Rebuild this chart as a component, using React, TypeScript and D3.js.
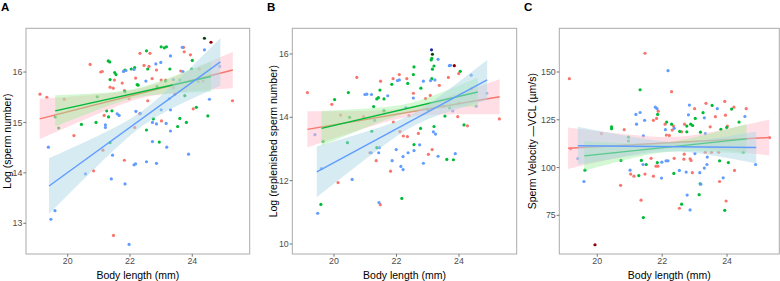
import React from "react";
import * as d3 from "d3";

// ---------- DATA ----------
const groupColors = ["#F8766D", "#00BA38", "#619CFF"];

const aRed = [[19.11,15.56],[19.33,15.5],[19.89,15.46],[20.2,14.74],[20.72,16.15],[20.83,14.04],[21.06,16.0],[21.11,16.01],[21.13,14.45],[21.17,15.14],[21.36,15.70],[21.46,15.68],[21.47,12.76],[21.5,15.84],[21.75,15.78],[21.8,16.02],[21.82,14.25],[21.82,15.63],[21.97,15.47],[22.15,14.9],[22.18,15.88],[22.31,15.17],[22.32,16.37],[22.45,16.13],[22.57,15.43],[22.61,16.11],[22.64,16.37],[22.71,15.87],[22.85,16.04],[23.0,15.84],[23.01,15.03],[23.15,15.84],[23.39,15.69],[23.44,15.56],[23.63,16.02],[23.72,16.49],[23.74,16.40],[23.94,16.34],[23.95,15.82],[24.03,15.27],[24.19,15.81],[24.22,16.06],[24.35,15.82],[25.29,15.43]];
const aGreen = [[19.6,15.11],[19.71,14.89],[20.44,14.96],[20.91,15.0],[20.95,15.51],[21.25,15.23],[21.30,16.22],[21.31,15.11],[21.35,16.20],[21.36,15.85],[21.36,14.6],[21.42,15.23],[21.51,15.99],[21.55,15.95],[21.84,16.04],[21.84,15.61],[22.04,16.06],[22.15,16.09],[22.23,15.75],[22.26,15.74],[22.53,16.42],[22.53,14.85],[22.57,16.06],[22.75,15.07],[22.87,15.71],[22.94,14.61],[23.0,16.5],[23.1,16.48],[23.14,15.82],[23.17,16.5],[23.28,16.06],[23.53,14.92],[23.6,15.08],[23.6,15.84],[23.76,15.53],[23.81,15.0],[23.98,16.06],[24.0,16.23],[24.13,15.3],[24.5,15.13]];
const aBlue = [[19.38,14.51],[19.46,13.08],[19.59,13.25],[20.57,13.98],[21.21,14.95],[21.21,14.90],[21.4,13.88],[21.44,14.35],[21.59,15.17],[21.65,15.14],[21.79,16.01],[21.84,13.78],[21.87,16.03],[21.97,12.58],[22.13,14.16],[22.13,16.05],[22.18,14.18],[22.19,15.22],[22.33,15.18],[22.51,15.82],[22.53,14.22],[22.72,14.62],[22.72,15.0],[22.83,16.16],[22.85,14.19],[22.85,14.97],[22.99,16.19],[23.0,15.25],[23.16,14.98],[23.18,14.51],[23.26,15.47],[23.3,15.25],[23.3,14.83],[23.3,16.32],[23.39,15.85],[23.68,16.49],[23.7,16.01],[23.88,14.37],[24.39,16.44],[24.55,15.46],[24.88,16.11]];
const aExtra = [[24.39,16.67,"#0b3d16"],[24.6,16.59,"#8B0000"]];

const bRed = [[19.15,14.78],[19.93,14.41],[20.13,11.94],[20.21,14.07],[20.73,15.26],[20.94,14.02],[21.15,12.88],[21.35,12.63],[21.48,11.24],[21.49,15.14],[21.81,12.30],[21.89,15.22],[21.9,13.85],[22.09,15.35],[22.11,13.55],[22.22,13.41],[22.33,15.22],[22.35,13.39],[22.4,14.05],[22.54,14.76],[22.7,13.49],[22.93,14.59],[23.02,12.83],[23.08,14.69],[23.14,12.98],[23.37,15.01],[23.5,14.35],[23.66,15.26],[23.96,14.02],[23.99,15.38],[24.0,14.45],[24.27,13.73],[24.4,14.9],[25.29,13.95]];
const bGreen = [[19.58,11.25],[19.65,13.24],[20.02,14.56],[20.43,13.2],[20.46,14.78],[20.5,14.0],[21.21,13.56],[21.27,14.34],[21.37,14.58],[21.37,13.04],[21.42,14.62],[21.47,14.86],[21.6,14.58],[21.6,14.2],[21.85,15.04],[22.17,11.44],[22.36,15.07],[22.54,15.35],[22.56,15.59],[22.56,13.14],[22.77,13.65],[22.78,14.92],[23.0,14.25],[23.11,15.81],[23.13,15.86],[23.13,15.22],[23.15,15.52],[23.2,15.62],[23.2,13.71],[23.55,14.04],[23.61,12.67],[23.7,14.3],[23.82,12.66],[24.04,15.45],[24.16,13.76]];
const bBlue = [[19.39,13.45],[19.48,10.97],[19.6,12.38],[20.58,12.04],[20.99,14.72],[21.05,14.73],[21.19,12.88],[21.2,14.72],[21.3,13.9],[21.43,12.88],[21.44,11.31],[21.45,13.04],[21.72,14.68],[21.86,12.63],[21.99,12.98],[22.03,15.16],[22.09,15.18],[22.14,12.45],[22.21,12.35],[22.21,12.76],[22.3,14.3],[22.37,12.88],[22.54,14.61],[22.56,12.95],[22.74,13.13],[22.86,15.14],[22.86,12.55],[23.09,15.16],[23.18,13.54],[23.23,15.18],[23.25,13.47],[23.33,15.83],[23.33,12.77],[23.69,15.63],[23.73,15.64],[23.8,14.2],[23.88,12.85],[24.39,15.33],[24.55,14.35],[24.89,14.76]];
const bExtra = [[23.12,16.13,"#1f2aa8"],[23.15,15.99,"#0b3d16"],[23.85,15.63,"#8B0000"]];

const cRed = [[19.14,146.5],[19.18,109.8],[20.13,117.7],[20.72,90.7],[20.83,119.8],[21.03,96.6],[21.13,95.5],[21.35,82.9],[21.47,159.8],[21.47,96.6],[21.66,104.8],[21.73,124.7],[21.73,95.5],[21.81,100.7],[21.83,125.7],[21.87,100.7],[21.88,129.5],[22.09,122.7],[22.13,117],[22.22,116.8],[22.29,139.7],[22.31,119.6],[22.35,121.7],[22.37,104.8],[22.53,78.7],[22.6,118.7],[22.67,104.4],[22.68,107],[22.69,122.7],[22.86,104.6],[22.89,103.7],[22.93,97.3],[23.0,130.8],[23.33,108],[23.35,133.6],[23.48,121.3],[23.52,108],[23.64,126.6],[23.74,108],[23.77,92.7],[23.93,134.6],[23.95,127.4],[23.97,82.5],[24.01,121.7],[24.21,131.6],[24.23,98.5],[24.59,130.8],[25.31,115.7]];
const cGreen = [[19.62,98.6],[20.44,120.3],[20.44,121.3],[20.73,103.7],[20.96,115.9],[20.96,113.9],[21.28,95.8],[21.32,140.7],[21.36,103.7],[21.42,73.8],[21.51,101.6],[21.85,102.6],[21.86,127.8],[22.14,123.8],[22.29,122.7],[22.36,96.9],[22.54,118.9],[22.6,80.8],[22.76,121.7],[22.76,118.7],[22.88,122.7],[22.94,122],[23.02,125.7],[23.14,85.8],[23.17,91.5],[23.18,118.5],[23.26,128.7],[23.54,132.5],[23.77,103.5],[23.81,120],[23.93,77.6],[23.99,121],[24.04,102.6],[24.14,130.6],[24.37,123.8],[24.5,108]];
const cBlue = [[19.4,104.7],[19.59,92.7],[21.01,98.6],[21.19,127.8],[21.21,122.7],[21.32,128.8],[21.41,101.6],[21.42,116.6],[21.46,124.7],[21.79,131.6],[21.84,130.8],[21.98,94.5],[21.99,102.8],[22.1,119.8],[22.12,103.5],[22.18,103.5],[22.18,150.7],[22.37,120.5],[22.53,98.5],[22.74,97.6],[22.77,85.6],[22.81,127.6],[22.84,132.7],[22.86,77.8],[23.01,107.3],[23.16,97.3],[23.19,91.3],[23.3,99.7],[23.3,126],[23.33,117.7],[23.38,101.6],[23.39,105.5],[23.7,130.8],[23.88,94.6],[24.55,126.7],[24.88,101.6]];
const cExtra = [[19.93,59.6,"#8B0000"]];

// fits: x range, fitted y at ends, CI half-width [at start, minimum, at end]
const aFits = [
  { x: [19.1, 25.3], y: [15.07, 16.04], h: [0.40, 0.10, 0.36] },
  { x: [19.6, 24.6], y: [15.23, 15.91], h: [0.31, 0.09, 0.30] },
  { x: [19.4, 24.9], y: [13.74, 16.2], h: [0.55, 0.15, 0.47] },
];
const bFits = [
  { x: [19.15, 25.3], y: [13.62, 14.65], h: [0.57, 0.15, 0.55] },
  { x: [19.6, 24.6], y: [13.65, 14.8], h: [0.55, 0.15, 0.45] },
  { x: [19.45, 24.9], y: [12.28, 15.18], h: [0.80, 0.2, 0.63] },
];
const cFits = [
  { x: [19.1, 25.3], y: [110.1, 115.7], h: [10.8, 3, 9.4] },
  { x: [19.6, 24.6], y: [106.1, 115.0], h: [7.7, 2.5, 7.8] },
  { x: [19.4, 24.9], y: [111.4, 110.5], h: [9.9, 2.5, 8.3] },
];

const xTicks = [20, 22, 24];
const aYTicks = [13, 14, 15, 16];
const bYTicks = [10, 12, 14, 16];
const cYTicks = [75, 100, 125, 150];

const panels = [
  { label: "A", ytitle: "Log (sperm number)", groups: [aRed, aGreen, aBlue], extra: aExtra, fits: aFits, yTicks: aYTicks,
    xDom: [18.661, 25.843], yDom: [12.391, 16.867], box: [26, 28.3, 249.7, 254], labelX: 1, ytitleX: 7 },
  { label: "B", ytitle: "Log (replenished sperm number)", groups: [bRed, bGreen, bBlue], extra: bExtra, fits: bFits, yTicks: bYTicks,
    xDom: [18.666, 25.846], yDom: [9.684, 16.81], box: [292.3, 28.3, 516.7, 254], labelX: 267, ytitleX: 273 },
  { label: "C", ytitle: "Sperm Velocity —VCL (µm/s)", groups: [cRed, cGreen, cBlue], extra: cExtra, fits: cFits, yTicks: cYTicks,
    xDom: [18.83, 25.61], yDom: [54.75, 172.87], box: [559.3, 28.3, 779.3, 254], labelX: 524, ytitleX: 532 },
];

const ribbonFills = ["rgba(255,192,203,0.5)", "rgba(144,238,144,0.4)", "rgba(173,216,230,0.5)"];
const FONT = "'Liberation Sans', Arial, Helvetica, sans-serif";

function ciHalf(fit) {
  const [x0, x1] = fit.x;
  const [h0, hm, h1] = fit.h;
  const a0 = Math.sqrt(Math.max(h0 * h0 - hm * hm, 1e-9));
  const a1 = Math.sqrt(Math.max(h1 * h1 - hm * hm, 1e-9));
  const r = a0 / a1;
  const xb = (x0 + r * x1) / (1 + r);
  const c = (a0 / (xb - x0)) ** 2;
  return (x) => Math.sqrt(hm * hm + c * (x - xb) ** 2);
}

function Panel({ p }) {
  const [L, T, R, B] = p.box;
  const x = d3.scaleLinear().domain(p.xDom).range([L, R]);
  const y = d3.scaleLinear().domain(p.yDom).range([B, T]);
  const clipId = "clip" + p.label;
  const midY = (T + B) / 2;

  return (
    <g>
      <defs>
        <clipPath id={clipId}><rect x={L} y={T} width={R - L} height={B - T} /></clipPath>
      </defs>
      <g clipPath={`url(#${clipId})`}>
        {p.groups.map((g, gi) =>
          g.map((d, i) => <circle key={gi + "-" + i} cx={x(d[0])} cy={y(d[1])} r={1.6} fill={groupColors[gi]} />)
        )}
        {p.extra.map((d, i) => <circle key={"e" + i} cx={x(d[0])} cy={y(d[1])} r={1.6} fill={d[2]} />)}
        {p.fits.map((f, gi) => {
          const half = ciHalf(f);
          const slope = (f.y[1] - f.y[0]) / (f.x[1] - f.x[0]);
          const fy = (xx) => f.y[0] + slope * (xx - f.x[0]);
          const xs = d3.range(0, 81).map((k) => f.x[0] + (k / 80) * (f.x[1] - f.x[0]));
          const area = d3.area().x((xx) => x(xx)).y0((xx) => y(fy(xx) - half(xx))).y1((xx) => y(fy(xx) + half(xx)));
          const line = d3.line().x((xx) => x(xx)).y((xx) => y(fy(xx)));
          return (
            <g key={"f" + gi}>
              <path d={area(xs)} fill={ribbonFills[gi]} stroke="none" />
              <path d={line([f.x[0], f.x[1]])} stroke={groupColors[gi]} strokeWidth={1.4} fill="none" />
            </g>
          );
        })}
      </g>
      <rect x={L} y={T} width={R - L} height={B - T} fill="none" stroke="#ababab" strokeWidth={1} />
      {xTicks.map((t) => (
        <g key={"xt" + t}>
          <line x1={x(t)} x2={x(t)} y1={B} y2={B + 2.7} stroke="#555" strokeWidth={0.8} />
          <text x={x(t)} y={264} textAnchor="middle" fontSize={8.8} fill="#4d4d4d" fontFamily={FONT}>{t}</text>
        </g>
      ))}
      {p.yTicks.map((t) => (
        <g key={"yt" + t}>
          <line x1={L - 2.7} x2={L} y1={y(t)} y2={y(t)} stroke="#555" strokeWidth={0.8} />
          <text x={L - 3.6} y={y(t)} dy="0.35em" textAnchor="end" fontSize={8.8} fill="#4d4d4d" fontFamily={FONT}>{t}</text>
        </g>
      ))}
      <text x={(L + R) / 2} y={278.5} textAnchor="middle" fontSize={10.5} fill="#000" fontFamily={FONT}>Body length (mm)</text>
      <text transform={`translate(${p.ytitleX},${midY}) rotate(-90)`} textAnchor="middle" dy="0.35em" fontSize={10.5} fill="#000" fontFamily={FONT}>{p.ytitle}</text>
      <text x={p.labelX} y={10.8} fontSize={11.5} fontWeight="bold" fill="#000" fontFamily={FONT}>{p.label}</text>
    </g>
  );
}

export default function App() {
  return (
    <svg width={780} height={281} style={{ position: "absolute", left: 0, top: 0, background: "#fff" }}>
      <rect width={780} height={281} fill="#fff" />
      {panels.map((p) => <Panel key={p.label} p={p} />)}
    </svg>
  );
}
